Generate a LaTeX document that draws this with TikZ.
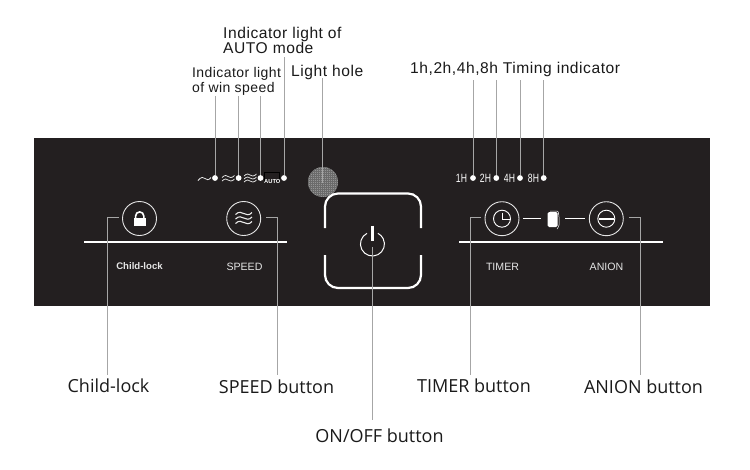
\documentclass[tikz,border=0pt]{standalone}
\usepackage{fontspec}
\setmainfont{Liberation Sans}
\newfontfamily\lblfont{Open Sans}
\newfontfamily\wideA[LetterSpace=3.5]{Liberation Sans}
\newfontfamily\wideB[LetterSpace=3]{Liberation Sans}
\newfontfamily\narrowfont[FakeStretch=0.72]{Liberation Sans}
\usetikzlibrary{calc}
\definecolor{panel}{HTML}{231F20}
\definecolor{leader}{HTML}{A6A6A6}
\definecolor{lblink}{HTML}{1A1A1A}
\tikzset{
  x=1pt,y=-1pt,
  panelbox/.style={fill=panel,draw=none},
  leaderline/.style={draw=leader,line width=0.8pt},
  dotnode/.style={circle,fill=white,draw=none,inner sep=0pt,minimum size=5.8pt},
  ringnode/.style={circle,draw=white!90!black,line width=0.9pt,inner sep=0pt,minimum size=34pt},
  whiteline/.style={draw=white,line width=1.6pt},
  thinwhite/.style={draw=white,line width=0.9pt},
  toplabel/.style={inner sep=0pt,anchor=base west,align=left,text=lblink,font=\wideA\fontsize{15.6}{15}\selectfont},
  smalllabel/.style={inner sep=0pt,anchor=base west,align=left,text=lblink,font=\wideB\fontsize{14}{13}\selectfont},
  biglabel/.style={inner sep=0pt,anchor=base,text=lblink,font=\lblfont\fontsize{18}{20}\selectfont},
  panellabel/.style={inner sep=0pt,anchor=base,text=white!90!black,font=\fontsize{10.6}{11}\selectfont},
  hourlabel/.style={inner sep=0pt,anchor=base,text=white,font=\narrowfont\fontsize{12}{12}\selectfont},
  wave/.style={draw=white!92!black,line width=0.75pt},
}
\begin{document}
\begin{tikzpicture}
\useasboundingbox (0,0) rectangle (750,469);
\fill[white] (0,0) rectangle (750,469);
\path[panelbox] (34,138) rectangle (710,306);

% light hole
\node[circle,fill=black!42,inner sep=0pt,minimum size=30pt] (hole) at (323,182) {};
\begin{scope}
  \clip (323,182) circle (15);
  \foreach \k in {0,...,15}{
    \draw[black!58,line width=0.45pt] (308+2*\k,167) -- (308+2*\k,197);
    \draw[black!58,line width=0.45pt] (308,167+2*\k) -- (338,167+2*\k);
  }
\end{scope}
\coordinate (holeend) at (322,183);

% indicator dots
\node[dotnode] (d1) at (215,178) {};
\node[dotnode] (d2) at (238.6,178) {};
\node[dotnode] (d3) at (260.5,178) {};
\node[dotnode] (d4) at (284,178) {};
\node[dotnode] (h1) at (473,178) {};
\node[dotnode] (h2) at (496.3,178) {};
\node[dotnode] (h3) at (520,178) {};
\node[dotnode] (h4) at (543.7,178) {};

% wave symbols
\draw[wave] (198,180.5) .. controls (201,176.5) and (204,177) .. (205,178.5) .. controls (206,180) and (209,180.5) .. (211,177.5);
\foreach \yy in {176.5,180}{
  \draw[wave] (222,\yy+1) .. controls (225,\yy-2) and (227,\yy-1) .. (228,\yy) .. controls (229,\yy+1) and (232,\yy+2) .. (234.5,\yy-1);
}
\foreach \yy in {175,178,181}{
  \draw[wave] (244,\yy+1) .. controls (247,\yy-2) and (249,\yy-1) .. (250,\yy) .. controls (251,\yy+1) and (254,\yy+2) .. (256.5,\yy-1);
}
\draw[black,line width=0.5pt] (264.5,183) |- (279.5,172.5) -- (279.5,183);
\node[inner sep=0pt,text=white,font=\bfseries\fontsize{5.8}{5}\selectfont] (autotext) at (272.3,181.2) {AUTO};

% hour labels
\node[hourlabel] (t1h) at (461.5,182.5) {1H};
\node[hourlabel] (t2h) at (485.5,182.5) {2H};
\node[hourlabel] (t4h) at (509.5,182.5) {4H};
\node[hourlabel] (t8h) at (533.5,182.5) {8H};

% button rings
\node[ringnode] (lock) at (139.5,218.5) {};
\node[ringnode] (speed) at (243.7,218.5) {};
\node[ringnode] (timer) at (502,218.7) {};
\node[ringnode] (anion) at (606.3,218.7) {};

% lock icon
\fill[white] (133.5,217.5) rectangle (146,225.5);
\draw[white,line width=1.6pt] (135.6,218) -- (135.6,216) arc[start angle=180,end angle=360,radius=4.1] -- (143.8,218);
% speed icon
\foreach \yy in {213.5,218,222.5}{
  \draw[wave,line width=1.1pt] (235.5,\yy+1) .. controls (239,\yy-2.5) and (241.5,\yy-1) .. (243.7,\yy) .. controls (246,\yy+1) and (249,\yy+2.5) .. (252,\yy-1);
}
% timer icon
\node[circle,draw=white,line width=0.9pt,inner sep=0pt,minimum size=17pt] (clock) at (502,218.7) {};
\draw[thinwhite] (502,212.5) -- (502,219) -- (510,219);
% anion icon
\node[circle,draw=white,line width=0.9pt,inner sep=0pt,minimum size=17pt] (minus) at (606.3,218.7) {};
\draw[whiteline] (599,218.7) -- (613.5,218.7);
% middle icon
\node[rounded corners=1.5pt,fill=white,inner sep=0pt,minimum width=10pt,minimum height=15pt] (mid) at (552.5,219.5) {};
\draw[white,line width=0.5pt,rounded corners=1pt] (550,211) -- (558,211) -- (559,216) -- (559,226) -- (557,229);
\coordinate (midl) at (541,218.5);
\coordinate (midr) at (565,218.5);
\coordinate (tmr) at (523,218.5);
\coordinate (anl) at (584.5,218.5);
\draw[thinwhite] (tmr) -- (midl);
\draw[thinwhite] (midr) -- (anl);

% horizontal bars
\coordinate (barLa) at (84,242);
\coordinate (barLb) at (287,242);
\coordinate (barRa) at (459,242);
\coordinate (barRb) at (663,242);
\draw[whiteline] (barLa) -- (barLb);
\draw[whiteline] (barRa) -- (barRb);

% panel labels
\node[panellabel,font=\bfseries\fontsize{9.6}{10}\selectfont] (tlock) at (139.5,269.5) {Child-lock};
\node[panellabel] (tspeed) at (244.5,270.5) {SPEED};
\node[panellabel] (ttimer) at (502.5,270.5) {TIMER};
\node[panellabel] (tanion) at (606.5,270.5) {ANION};

% power button
\draw[white,line width=2.2pt,rounded corners=13pt] (325,228) -- (325,193.5) -- (421,193.5) -- (421,228);
\draw[white,line width=2.2pt,rounded corners=13pt] (325,255) -- (325,288) -- (421,288) -- (421,255);
\draw[white,line width=1pt] (367,233.3) arc[start angle=-117,end angle=-423,radius=12];
\coordinate (pw) at (372.5,245);
\draw[white,line width=2.6pt] (372.5,225.5) -- (372.5,240.5);

% outer labels
\node[toplabel] (autolab) at (223,53) {Indicator light of\\AUTO mode};
\node[smalllabel] (winlab) at (192,92) {Indicator light\\of win speed};
\node[toplabel] (holelab) at (291,76) {Light hole};
\node[toplabel] (timelab) at (410,73) {1h,2h,4h,8h Timing indicator};
\node[biglabel] (block) at (108.5,392) {Child-lock};
\node[biglabel] (bspeed) at (276.5,393) {SPEED button};
\node[biglabel] (btimer) at (474,392) {TIMER button};
\node[biglabel] (banion) at (643.5,393) {ANION button};
\node[biglabel] (bpower) at (379.5,442) {ON/OFF button};

% leaders
\coordinate (a1) at (d1|-0,96);
\coordinate (a2) at (d2|-0,96);
\coordinate (a3) at (d3|-0,96);
\coordinate (a4) at (d4|-0,57);
\coordinate (a5) at (322,78);
\coordinate (b1) at (h1|-0,80);
\coordinate (b2) at (h2|-0,80);
\coordinate (b3) at (h3|-0,80);
\coordinate (b4) at (h4|-0,80);
\draw[leaderline] (a1) -- (d1);
\draw[leaderline] (a2) -- (d2);
\draw[leaderline] (a3) -- (d3);
\draw[leaderline] (a4) -- (d4);
\draw[leaderline] (a5) -- (holeend);
\draw[leaderline] (b1) -- (h1);
\draw[leaderline] (b2) -- (h2);
\draw[leaderline] (b3) -- (h3);
\draw[leaderline] (b4) -- (h4);

\coordinate (l1a) at (118.5,217.5);
\coordinate (l1b) at (107,375);
\coordinate (l2a) at (266,217.5);
\coordinate (l2b) at (277.5,375);
\coordinate (l3a) at (481,217.5);
\coordinate (l3b) at (470,375);
\coordinate (l4a) at (629,217.5);
\coordinate (l4b) at (640.5,375);
\coordinate (l5a) at (372,247);
\coordinate (l5b) at (372,420);
\draw[leaderline] (l1a) -| (l1b);
\draw[leaderline] (l2a) -| (l2b);
\draw[leaderline] (l3a) -| (l3b);
\draw[leaderline] (l4a) -| (l4b);
\draw[leaderline] (l5a) -- (l5b);
\end{tikzpicture}
\end{document}
